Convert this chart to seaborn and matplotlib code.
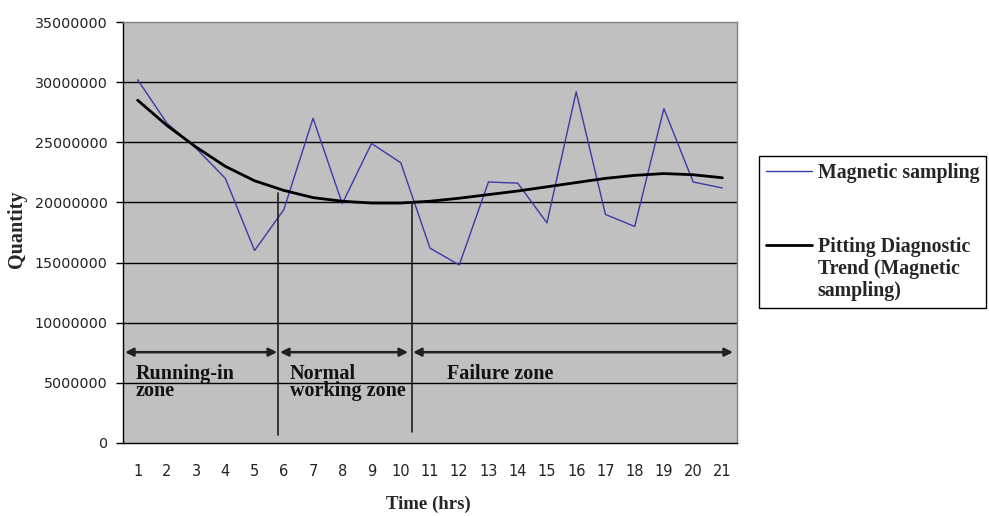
import matplotlib
matplotlib.use("Agg")
import matplotlib.pyplot as plt
from matplotlib.legend_handler import HandlerLine2D
import seaborn as sns
import pandas as pd
import numpy as np

hours = list(range(1, 22))
magnetic = [30.2, 26.6, 24.5, 22.0, 16.0, 19.4, 27.0, 19.9, 24.9, 23.3, 16.2,
            14.8, 21.7, 21.6, 18.3, 29.2, 19.0, 18.0, 27.8, 21.7, 21.2]
trend = [28.5, 26.4, 24.6, 23.0, 21.8, 21.0, 20.4, 20.1, 19.95, 19.95, 20.1,
         20.35, 20.65, 20.95, 21.3, 21.65, 22.0, 22.25, 22.4, 22.3, 22.05]
magnetic = [v * 1e6 for v in magnetic]
trend = [v * 1e6 for v in trend]

y_ticks = [0, 5000000, 10000000, 15000000, 20000000, 25000000, 30000000, 35000000]

# zone annotations (data coords)
zone_lines = [(5.81, 0.66e6, 20.8e6), (10.39, 0.9e6, 20.0e6)]
zone_arrows = [(0.57, 5.77), (5.87, 10.25), (10.42, 21.36)]
arrow_y = 7.55e6
zone_labels = [("Running-in\nzone", 0.94), ("Normal\nworking zone", 6.21), ("Failure zone", 11.57)]
label_y = 6.55e6

trend_name = "Pitting Diagnostic\nTrend (Magnetic\nsampling)"
df = pd.DataFrame({"hour": hours, "Magnetic sampling": magnetic, trend_name: trend})

sns.set_style("white")
plt.rcParams['font.family'] = ['DejaVu Sans']
serif = ['Liberation Serif', 'DejaVu Serif']


class ShiftedLine(HandlerLine2D):
    # moves the legend line up so it sits on the first text line
    def __init__(self, shift=0, **kw):
        super().__init__(**kw)
        self.shift = shift

    def create_artists(self, legend, orig_handle, xdescent, ydescent, width, height, fontsize, trans):
        arts = super().create_artists(legend, orig_handle, xdescent, ydescent - self.shift,
                                      width, height, fontsize, trans)
        return arts


fig = plt.figure(figsize=(9.89, 5.16), dpi=100)
ax = fig.add_axes([123 / 989, 1 - 443 / 516, 614 / 989, 421 / 516])
ax.set_facecolor('#c0c0c0')

for yv in y_ticks[1:-1]:
    ax.axhline(yv, color='black', lw=1, zorder=1)

sns.lineplot(data=df, x="hour", y="Magnetic sampling", ax=ax, color='#3a3aa8',
             lw=1, label="Magnetic sampling", legend=False, zorder=3)
sns.lineplot(data=df, x="hour", y=trend_name, ax=ax,
             color='black', lw=2, label=trend_name, legend=False, zorder=4)

for x, y0, y1 in zone_lines:
    ax.plot([x, x], [y0, y1], color='#202020', lw=1.2, zorder=5)
for x0, x1 in zone_arrows:
    ax.annotate("", xy=(x1, arrow_y), xytext=(x0, arrow_y),
                arrowprops=dict(arrowstyle='<|-|>', color='#202020', lw=1.8,
                                mutation_scale=12, shrinkA=0, shrinkB=0), zorder=5)
for txt, x in zone_labels:
    ax.text(x, label_y, txt, ha='left', va='top', fontsize=14.5, fontweight='bold',
            family=serif, linespacing=0.8, color='#111111', zorder=6)

ax.set_xlim(0.5, 21.5)
ax.set_ylim(0, 35000000)
ax.set_yticks(y_ticks)
ax.set_yticklabels([str(v) for v in y_ticks])
ax.set_xticks(hours)
ax.set_xticks(np.arange(0.5, 22, 1), minor=True)
ax.tick_params(axis='x', which='major', length=0, pad=15, labelsize=10.5, labelcolor='#222222')
ax.tick_params(axis='x', which='minor', length=5, width=1, color='black', direction='out')
ax.tick_params(axis='y', length=5, width=1, color='black', direction='out', pad=6,
               labelsize=10.3, labelcolor='#222222', left=True)

for side in ['top', 'right']:
    ax.spines[side].set_color('#808080')
    ax.spines[side].set_linewidth(1)
for side in ['left', 'bottom']:
    ax.spines[side].set_color('black')
    ax.spines[side].set_linewidth(1)

ax.set_xlabel("Time (hrs)", fontsize=13.5, fontweight='bold', family=serif)
ax.set_ylabel("Quantity", fontsize=14.5, fontweight='bold', family=serif)
ax.xaxis.set_label_coords(0.498, -0.126)
ax.yaxis.set_label_coords(-0.1565, 0.507)

handles, labels = ax.get_legend_handles_labels()
leg = fig.legend(handles, labels, loc='upper left', bbox_to_anchor=(759 / 989, 1 - 156 / 516),
                 frameon=True, fancybox=False, edgecolor='black', framealpha=1,
                 borderaxespad=0, labelspacing=2.7, handlelength=2.3, handletextpad=0.3,
                 borderpad=0.35,
                 handler_map={handles[1]: ShiftedLine(shift=34.6)},
                 prop={'family': serif, 'weight': 'bold', 'size': 14.3})
leg.get_frame().set_linewidth(1)
for t in leg.get_texts():
    t.set_linespacing(1.15)

fig.savefig("out.png", dpi=100)
